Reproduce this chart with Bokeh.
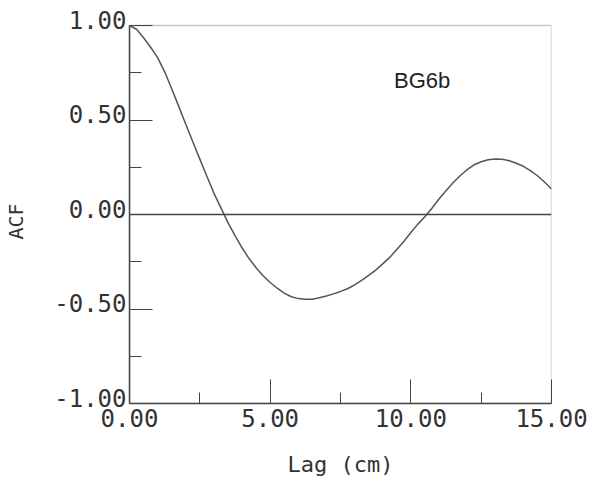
from bokeh.plotting import figure
from bokeh.models import (ColumnDataSource, FixedTicker, Span, Label, Range1d,
                          LinearAxis, BoxAnnotation)
from bokeh.embed import file_html
from bokeh.resources import INLINE

# Autocorrelation function of sample BG6b
lag_cm = [0.0, 0.25, 0.5, 0.75, 1.0, 1.25, 1.5, 1.75, 2.0, 2.25, 2.5, 2.75,
          3.0, 3.25, 3.5, 3.75, 4.0, 4.25, 4.5, 4.75, 5.0, 5.25, 5.5, 5.75,
          6.0, 6.25, 6.5, 6.75, 7.0, 7.25, 7.5, 7.75, 8.0, 8.25, 8.5, 8.75,
          9.0, 9.25, 9.5, 9.75, 10.0, 10.25, 10.5, 10.75, 11.0, 11.25, 11.5,
          11.75, 12.0, 12.25, 12.5, 12.75, 13.0, 13.25, 13.5, 13.75, 14.0,
          14.25, 14.5, 14.75, 15.0]
acf = [1.000, 0.980, 0.935, 0.885, 0.830, 0.755, 0.665, 0.572, 0.478, 0.385,
       0.293, 0.202, 0.113, 0.035, -0.043, -0.112, -0.176, -0.233, -0.282,
       -0.324, -0.360, -0.390, -0.416, -0.435, -0.445, -0.449, -0.448,
       -0.441, -0.431, -0.420, -0.407, -0.393, -0.372, -0.349, -0.322,
       -0.294, -0.261, -0.227, -0.185, -0.143, -0.095, -0.051, -0.012,
       0.033, 0.082, 0.126, 0.168, 0.205, 0.237, 0.263, 0.279, 0.290,
       0.294, 0.292, 0.284, 0.271, 0.255, 0.232, 0.205, 0.172, 0.135]

x_ticks = [0, 5, 10, 15]
x_minor = [2.5, 7.5, 12.5]
x_tick_labels = ["0.00", "5.00", "10.00", "15.00"]
y_ticks = [-1.0, -0.5, 0.0, 0.5, 1.0]
y_minor = [-0.75, -0.25, 0.25, 0.75]
y_tick_labels = ["-1.00", "-0.50", "0.00", "0.50", "1.00"]

INK = "#444444"
TEXT = "#333333"
MONO = "DejaVu Sans Mono"

# geometry of the plotting box (pixels)
BOX_H = 378                      # height of the -1..1 box
PX = BOX_H / 2.0                 # pixels per ACF unit
HEAD = 10                        # free space above the box inside the frame
LIFT = 6                         # y labels sit just above their ticks

y_top = 1 + HEAD / PX
p = figure(width=595, height=485, output_backend="svg", toolbar_location=None,
           x_range=Range1d(0, 15), y_range=Range1d(-1, y_top),
           min_border_left=129, min_border_right=44,
           min_border_top=25 - HEAD, min_border_bottom=82)
p.background_fill_color = "white"
p.border_fill_color = "white"
p.grid.visible = False
p.outline_line_color = None

# frame box around the -1..1 region
p.add_layout(BoxAnnotation(left=0, right=15, bottom=-1, top=1,
                           fill_color=None, fill_alpha=0,
                           line_color=INK, line_width=1.5))

# x axis
xa = p.xaxis[0]
xa.ticker = FixedTicker(ticks=x_ticks, minor_ticks=x_minor)
xa.major_label_overrides = {t: s for t, s in zip(x_ticks, x_tick_labels)}
xa.axis_line_color = INK
xa.axis_line_width = 1.5
xa.major_tick_line_color = INK
xa.minor_tick_line_color = INK
xa.major_tick_in = 24
xa.major_tick_out = 0
xa.minor_tick_in = 11
xa.minor_tick_out = 0
xa.major_label_standoff = 5
xa.major_label_text_font = MONO
xa.major_label_text_font_size = "24px"
xa.major_label_text_color = TEXT
xa.axis_label = "Lag (cm)"
xa.axis_label_text_font = MONO
xa.axis_label_text_font_size = "22px"
xa.axis_label_text_font_style = "normal"
xa.axis_label_text_color = TEXT
xa.axis_label_standoff = 22

# y axis: line and ticks only
ya = p.yaxis[0]
ya.bounds = (-1, 1)
ya.ticker = FixedTicker(ticks=y_ticks, minor_ticks=y_minor)
ya.major_label_overrides = {t: "" for t in y_ticks}
ya.major_label_text_font_size = "0px"
ya.major_label_standoff = 0
ya.axis_line_color = INK
ya.axis_line_width = 1.5
ya.major_tick_line_color = INK
ya.minor_tick_line_color = INK
ya.major_tick_in = 23
ya.major_tick_out = 0
ya.minor_tick_in = 12
ya.minor_tick_out = 0

# y labels on a companion axis whose scale is lifted a few pixels
lift = LIFT / PX
p.extra_y_ranges = {"labels": Range1d(-1 - lift, y_top - lift)}
yl = LinearAxis(y_range_name="labels",
                ticker=FixedTicker(ticks=y_ticks, minor_ticks=[]),
                major_label_overrides={t: s for t, s in
                                       zip(y_ticks, y_tick_labels)})
yl.axis_line_color = None
yl.major_tick_line_color = None
yl.minor_tick_line_color = None
yl.major_tick_in = 0
yl.major_tick_out = 0
yl.minor_tick_in = 0
yl.minor_tick_out = 0
yl.major_label_standoff = 3
yl.major_label_text_font = MONO
yl.major_label_text_font_size = "24px"
yl.major_label_text_color = TEXT
# two no-break spaces nudge the rotated title a little below the frame centre
yl.axis_label = "ACF\u00a0\u00a0"
yl.axis_label_text_font = MONO
yl.axis_label_text_font_size = "20px"
yl.axis_label_text_font_style = "normal"
yl.axis_label_text_color = TEXT
yl.axis_label_standoff = 23
p.add_layout(yl, "left")

# zero reference line
p.add_layout(Span(location=0, dimension="width", line_color=INK,
                  line_width=1.5))

src = ColumnDataSource(dict(lag=lag_cm, acf=acf))
p.line("lag", "acf", source=src, line_color="#555555", line_width=1.5)

p.add_layout(Label(x=10.4, y=0.71, text="BG6b", text_align="center",
                   text_baseline="alphabetic", text_font="Liberation Sans",
                   text_font_size="22px", text_color="#222222"))

open("out.html", "w").write(file_html(p, INLINE))
